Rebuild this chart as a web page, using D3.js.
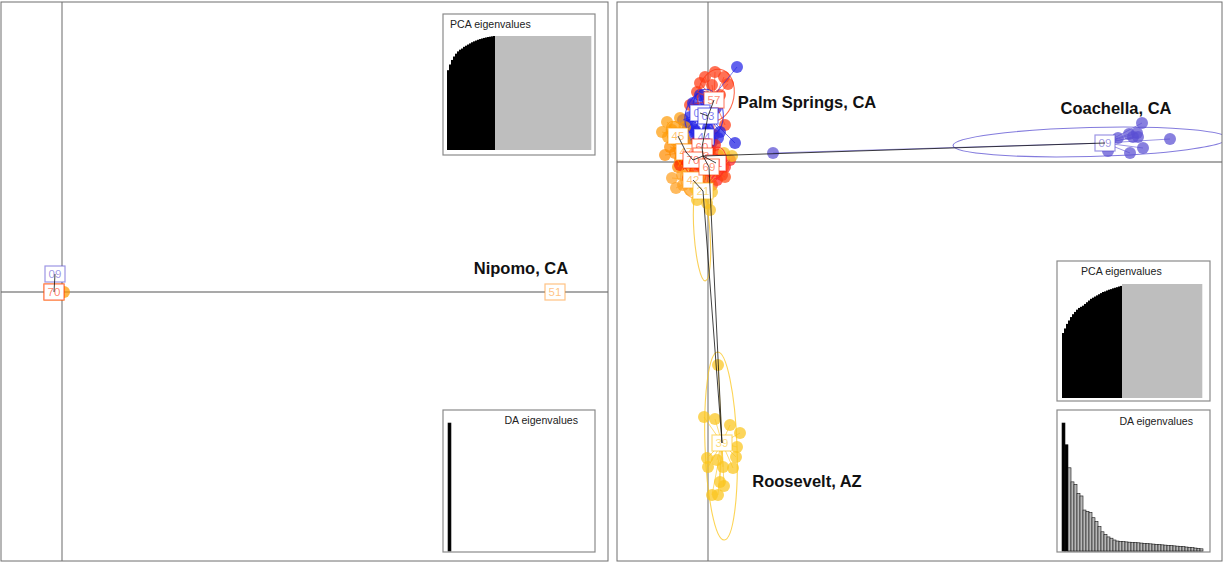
<!DOCTYPE html>
<html>
<head>
<meta charset="utf-8">
<script src="https://cdn.jsdelivr.net/npm/d3@7"></script>
<style>
  html, body { margin: 0; padding: 0; background: #fff; }
  svg { display: block; font-family: "Liberation Sans", Arial, Helvetica, sans-serif; }
</style>
</head>
<body>
<svg id="chart" width="1225" height="563"></svg>
<script>
// ---------------------------------------------------------------
// DAPC scores (discriminant functions LD1 / LD2)
// ---------------------------------------------------------------

// Left analysis: Nipomo vs. the rest
const leftGroups    = ["48", "09", "70", "51"];
const leftCentLD1   = [-0.8, -0.7, -0.8, 49.3];
const leftCentLD2   = [0.0,  1.8,  0.0,  0.0];
const leftInd = [
  ["09", -0.7, 1.8], ["09", -0.6, 1.7],
  ["70", -0.8, 0.0], ["70", -0.7, -0.1],
  ["48", 0.2, 0.0],
  ["51", 49.3, 0.0]
];
const leftTree = [["09", "70"]];
const leftAnnot = [["Nipomo, CA", 45.9, 2.4]];

// Right analysis: the desert populations
const rightGroups  = ["57", "06", "03", "44", "45", "47", "42", "60", "63", "71", "70", "69", "21", "39", "09"];
const rightCentLD1 = [0.6, -0.8, 0.0, -0.4, -3.0, -2.2, -1.5, -0.6, -0.5, 0.8, -1.5, 0.1, -0.5, 1.4, 39.7];
const rightCentLD2 = [6.2,  4.9, 4.6,  2.5,  2.6,  1.0, -1.8,  1.5,  0.6, -0.1, 0.2, -0.5, -2.9, -28.1, 1.9];
const rightInd = [
  ["57", -0.3, 8.5], ["57", 0.7, 9.0], ["57", 1.6, 8.5], ["57", -0.8, 7.9], ["57", 2.0, 7.8],
  ["57", -1.1, 7.0], ["57", 0.4, 7.7], ["57", 1.2, 6.7], ["57", -0.3, 4.4], ["57", 1.7, 3.7],
  ["57", 0.6, 2.7], ["57", -1.8, 5.7],
  ["06", -1.5, 5.9], ["06", -1.8, 4.5], ["06", -2.5, 4.2], ["06", -1.0, 5.4], ["06", 2.9, 9.5],
  ["06", -0.3, 6.2], ["06", -2.0, 3.4], ["06", -1.3, 3.0],
  ["03", -0.1, 3.0], ["03", 0.2, 2.4], ["03", 0.8, 5.4], ["03", -0.8, 6.7], ["03", -1.8, 3.7],
  ["03", 1.2, 3.0], ["03", 2.7, 1.9],
  ["44", -1.3, 3.2], ["44", 0.4, 2.0], ["44", -0.8, 1.4], ["44", 1.0, 2.4], ["44", -1.8, 2.2], ["44", 0.0, 3.4],
  ["45", -4.1, 4.0], ["45", -3.6, 3.2], ["45", -4.0, 2.5], ["45", -3.1, 2.2], ["45", -3.3, 3.5],
  ["45", -2.3, 3.5], ["45", -4.6, 3.0], ["45", -2.8, 4.4],
  ["47", -3.8, 1.5], ["47", -3.3, 0.9], ["47", -2.8, 0.2], ["47", -4.3, 0.7], ["47", -1.8, 1.7], ["47", -3.0, -0.5],
  ["42", -2.6, -1.3], ["42", -2.5, -2.3], ["42", -1.8, -2.8], ["42", -0.8, -1.6], ["42", -2.0, -1.0],
  ["42", -3.6, -1.6], ["42", -3.2, -2.6],
  ["60", -1.3, 1.2], ["60", 0.2, 1.2], ["60", 0.7, 1.7], ["60", -1.0, 2.2], ["60", -0.3, 0.4],
  ["63", -0.8, -0.3], ["63", 0.2, 0.0], ["63", 1.0, 0.7], ["63", -1.6, 0.4], ["63", -0.2, -0.8],
  ["71", 1.7, -0.5], ["71", 1.4, -1.3], ["71", 0.9, -1.8], ["71", 2.2, 0.2], ["71", 0.4, -1.0],
  ["70", -2.3, 0.2], ["70", -2.1, 0.9], ["70", -2.0, -1.6], ["70", -2.8, -0.3], ["70", -1.3, -0.8],
  ["69", 0.9, 0.2], ["69", 1.5, -0.5], ["69", 1.7, -1.5], ["69", -0.3, -1.8], ["69", 0.4, -2.3],
  ["21", 0.2, -4.8], ["21", -1.1, -3.8], ["21", -0.1, -4.1], ["21", -1.3, -2.6], ["21", 0.4, -3.0],
  ["21", 1.6, 0.9], ["21", 2.4, 0.6],
  ["39", -0.4, -25.5], ["39", 0.7, -25.7], ["39", 2.2, -26.3], ["39", 3.2, -27.1], ["39", 2.9, -28.5],
  ["39", 2.8, -29.5], ["39", 2.5, -30.6], ["39", -0.1, -29.6], ["39", 0.0, -30.5], ["39", 0.9, -29.8],
  ["39", 1.5, -30.5], ["39", 1.2, -32.0], ["39", 1.6, -32.4], ["39", 0.4, -33.3], ["39", 1.0, -33.3],
  ["39", 1.0, -20.3],
  ["09", 43.4, 3.9], ["09", 42.1, 2.8], ["09", 42.9, 2.9], ["09", 43.0, 2.5], ["09", 41.0, 2.4],
  ["09", 46.2, 2.3], ["09", 43.5, 1.4], ["09", 42.2, 0.9], ["09", 40.0, 1.1], ["09", 42.5, 2.5],
  ["09", 6.5, 0.9]
];
// inertia ellipses: group, centre LD1, centre LD2, semi-axis a, semi-axis b, angle (deg)
const rightEllipses = [
  ["09", 38.2, 2.0, 13.7, 1.45, 1.5],
  ["39", 1.3, -28.4, 9.4, 1.6, 92],
  ["21", -0.6, -7.1, 4.8, 0.8, 94],
  ["57", 0.8, 6.7, 2.6, 1.8, 80],
  ["06", -0.8, 4.9, 2.2, 1.4, 70],
  ["03", 0.0, 5.0, 2.3, 1.5, 100],
  ["44", -0.4, 2.5, 1.6, 1.1, 90],
  ["45", -3.0, 2.6, 1.6, 1.0, 120],
  ["47", -2.2, 1.0, 1.8, 1.1, 110],
  ["42", -1.5, -1.8, 1.8, 1.2, 100],
  ["60", -0.6, 1.5, 1.4, 1.0, 90],
  ["63", -0.5, 0.6, 1.5, 1.1, 90],
  ["71", 0.8, -0.1, 1.6, 1.0, 80],
  ["70", -1.5, 0.2, 1.5, 1.0, 100],
  ["69", 0.1, -0.5, 1.7, 1.1, 90]
];
// minimum spanning tree between group centroids
const rightTree = [
  ["09", "63"], ["39", "21"], ["39", "69"], ["21", "42"], ["60", "63"], ["44", "60"], ["03", "44"],
  ["06", "03"], ["57", "03"], ["45", "47"], ["47", "70"], ["70", "63"], ["71", "63"], ["69", "63"]
];
const rightAnnot = [
  ["Palm Springs, CA", 9.9, 6.0],
  ["Coachella, CA", 40.8, 5.4],
  ["Roosevelt, AZ", 9.9, -31.9]
];

// eigenvalue insets
const leftPcaCumVar = [
  0.70, 0.75, 0.79, 0.82, 0.845, 0.865, 0.88, 0.89, 0.905, 0.915, 0.925, 0.935,
  0.945, 0.953, 0.96, 0.967, 0.973, 0.978, 0.983, 0.987, 0.991, 0.994, 0.997, 1.0,
  1, 1, 1, 1, 1, 1, 1, 1, 1, 1, 1, 1, 1, 1, 1, 1, 1, 1, 1, 1, 1, 1, 1, 1,
  1, 1, 1, 1, 1, 1, 1, 1, 1, 1, 1, 1, 1, 1, 1, 1, 1, 1, 1, 1, 1, 1, 1, 1
];
const leftPcaRetained = 24;
const leftDaEig = [1.0];
const leftDaRetained = 1;

const rightPcaCumVar = [
  0.57, 0.61, 0.65, 0.68, 0.71, 0.735, 0.755, 0.775, 0.79, 0.80, 0.81, 0.825, 0.84, 0.855, 0.87,
  0.88, 0.89, 0.90, 0.91, 0.92, 0.93, 0.935, 0.943, 0.95, 0.955, 0.962, 0.967, 0.972, 0.978, 0.983,
  1, 1, 1, 1, 1, 1, 1, 1, 1, 1, 1, 1, 1, 1, 1, 1, 1, 1, 1, 1,
  1, 1, 1, 1, 1, 1, 1, 1, 1, 1, 1, 1, 1, 1, 1, 1, 1, 1, 1, 1
];
const rightPcaRetained = 30;
const rightDaEig = [
  1.0, 0.83, 0.65, 0.54, 0.52, 0.45, 0.43, 0.32, 0.31, 0.30, 0.26, 0.23, 0.19, 0.15, 0.13, 0.11,
  0.10, 0.086, 0.078, 0.075, 0.073, 0.071, 0.069, 0.067, 0.066, 0.064, 0.062, 0.060, 0.058, 0.056,
  0.054, 0.052, 0.050, 0.048, 0.046, 0.044, 0.042, 0.040, 0.038, 0.036, 0.034, 0.031, 0.029, 0.026,
  0.023, 0.020, 0.017
];
const rightDaRetained = 2;

// ---------------------------------------------------------------
// styling
// ---------------------------------------------------------------
const palette = {
  "09": "#5a4fd2", "06": "#2424e8", "03": "#1e1ee2", "44": "#2a2ae6",
  "57": "#ff3a14", "60": "#ff2d10", "63": "#ff3800", "71": "#ff2424", "70": "#ff2a00", "69": "#ff4a10",
  "45": "#ff9c0a", "47": "#ff8c00", "42": "#ffa020", "48": "#ff9a00",
  "21": "#f8c020", "39": "#fbc51c", "51": "#ff9a30"
};

const svg = d3.select("#chart");

function drawPanel(cfg) {
  const g = svg.append("g");
  const x = d3.scaleLinear().domain(cfg.xDomain).range([cfg.x0, cfg.x1]);
  const y = d3.scaleLinear().domain(cfg.yDomain).range([cfg.y1, cfg.y0]);
  const k = (cfg.x1 - cfg.x0) / (cfg.xDomain[1] - cfg.xDomain[0]);

  const cent = new Map(cfg.groups.map((gname, i) => [gname, [cfg.cLD1[i], cfg.cLD2[i]]]));

  const clipId = "clip-" + cfg.id;
  svg.append("defs").append("clipPath").attr("id", clipId)
    .append("rect").attr("x", cfg.x0).attr("y", cfg.y0)
    .attr("width", cfg.x1 - cfg.x0).attr("height", cfg.y1 - cfg.y0);
  const plot = g.append("g").attr("clip-path", `url(#${clipId})`);

  // axes through the origin
  plot.append("line").attr("x1", cfg.x0).attr("x2", cfg.x1).attr("y1", y(0)).attr("y2", y(0))
    .attr("stroke", "#8c8c8c").attr("stroke-width", 1.3);
  plot.append("line").attr("y1", cfg.y0).attr("y2", cfg.y1).attr("x1", x(0)).attr("x2", x(0))
    .attr("stroke", "#8c8c8c").attr("stroke-width", 1.3);

  // individuals
  plot.append("g").selectAll("circle").data(cfg.ind).join("circle")
    .attr("cx", d => x(d[1])).attr("cy", d => y(d[2])).attr("r", 6)
    .attr("fill", d => palette[d[0]]).attr("fill-opacity", 0.72);

  // ellipses
  plot.append("g").selectAll("ellipse").data(cfg.ellipses).join("ellipse")
    .attr("transform", d => `translate(${x(d[1])},${y(d[2])}) rotate(${-d[5]})`)
    .attr("rx", d => d[3] * k).attr("ry", d => d[4] * k)
    .attr("fill", "none").attr("stroke", d => palette[d[0]])
    .attr("stroke-opacity", 0.75).attr("stroke-width", 1.1);

  // stars: centroid to each individual
  plot.append("g").selectAll("line").data(cfg.ind).join("line")
    .attr("x1", d => x(cent.get(d[0])[0])).attr("y1", d => y(cent.get(d[0])[1]))
    .attr("x2", d => x(d[1])).attr("y2", d => y(d[2]))
    .attr("stroke", d => palette[d[0]]).attr("stroke-opacity", 0.6).attr("stroke-width", 1);

  // group labels
  const lab = plot.append("g").selectAll("g").data(cfg.groups).join("g")
    .attr("transform", d => `translate(${x(cent.get(d)[0])},${y(cent.get(d)[1])})`);
  lab.append("rect").attr("x", -10).attr("y", -8).attr("width", 20).attr("height", 16)
    .attr("fill", "#fff").attr("stroke", d => palette[d]).attr("stroke-opacity", 0.6).attr("stroke-width", 1.2);
  lab.append("text").attr("text-anchor", "middle").attr("dy", "0.36em")
    .attr("font-size", 11.5).attr("fill", d => palette[d]).attr("fill-opacity", 0.6)
    .text(d => d);

  // spanning tree between centroids
  plot.append("g").selectAll("line").data(cfg.tree).join("line")
    .attr("x1", d => x(cent.get(d[0])[0])).attr("y1", d => y(cent.get(d[0])[1]))
    .attr("x2", d => x(cent.get(d[1])[0])).attr("y2", d => y(cent.get(d[1])[1]))
    .attr("stroke", "#111").attr("stroke-opacity", 0.8).attr("stroke-width", 1);

  // population names
  plot.append("g").selectAll("text").data(cfg.annot).join("text")
    .attr("x", d => x(d[1])).attr("y", d => y(d[2])).attr("dy", "0.35em")
    .attr("text-anchor", "middle").attr("font-size", 16.5).attr("font-weight", "bold")
    .attr("fill", "#111").text(d => d[0]);

  // panel frame
  g.append("rect").attr("x", cfg.x0).attr("y", cfg.y0)
    .attr("width", cfg.x1 - cfg.x0).attr("height", cfg.y1 - cfg.y0)
    .attr("fill", "none").attr("stroke", "#6e6e6e").attr("stroke-width", 1);

  drawPcaInset(g, cfg.pca);
  drawDaInset(g, cfg.da);
}

function insetBox(g, b) {
  g.append("rect").attr("x", b.x0).attr("y", b.y0).attr("width", b.x1 - b.x0).attr("height", b.y1 - b.y0)
    .attr("fill", "#fff").attr("stroke", "#8a8a8a").attr("stroke-width", 1.2);
}

function drawPcaInset(g, p) {
  insetBox(g, p.box);
  const n = p.values.length;
  const bx = d3.scaleBand().domain(d3.range(n)).range([p.left, p.left + n * p.step]).padding(0);
  const by = d3.scaleLinear().domain([0, 1]).range([p.base, p.top]);
  g.append("g").selectAll("rect").data(p.values).join("rect")
    .attr("x", (d, i) => bx(i)).attr("width", bx.bandwidth() + 0.3)
    .attr("y", d => by(d)).attr("height", d => p.base - by(d))
    .attr("fill", (d, i) => i < p.retained ? "#000" : "#bebebe");
  g.append("text").attr("x", p.titleX).attr("y", p.titleY).attr("text-anchor", p.anchor)
    .attr("font-size", 10.6).attr("fill", "#222").text("PCA eigenvalues");
}

function drawDaInset(g, p) {
  insetBox(g, p.box);
  const n = p.values.length;
  const bx = d3.scaleBand().domain(d3.range(n)).range([p.left, p.left + n * p.step]).padding(0);
  const by = d3.scaleLinear().domain([0, d3.max(p.values)]).range([p.base, p.top]);
  g.append("g").selectAll("rect").data(p.values).join("rect")
    .attr("x", (d, i) => bx(i)).attr("width", bx.bandwidth())
    .attr("y", d => by(d)).attr("height", d => p.base - by(d))
    .attr("fill", (d, i) => i < p.retained ? "#000" : "#b8b8b8")
    .attr("stroke", "#111").attr("stroke-width", 0.6);
  g.append("text").attr("x", p.titleX).attr("y", p.titleY).attr("text-anchor", "end")
    .attr("font-size", 10.6).attr("fill", "#222").text("DA eigenvalues");
}

drawPanel({
  id: "left",
  x0: 1, x1: 608, y0: 2, y1: 561,
  xDomain: [-6.1, 54.6], yDomain: [-26.9, 29.0],
  groups: leftGroups, cLD1: leftCentLD1, cLD2: leftCentLD2,
  ind: leftInd, ellipses: [], tree: leftTree, annot: leftAnnot,
  pca: { box: { x0: 443, y0: 14, x1: 595, y1: 155 }, values: leftPcaCumVar, retained: leftPcaRetained,
         left: 447, step: 2, base: 150, top: 36, titleX: 450, titleY: 28, anchor: "start" },
  da:  { box: { x0: 443, y0: 410, x1: 595, y1: 552 }, values: leftDaEig, retained: leftDaRetained,
         left: 448, step: 3, base: 551, top: 423, titleX: 578, titleY: 424 }
});

drawPanel({
  id: "right",
  x0: 617, x1: 1222, y0: 2, y1: 561,
  xDomain: [-9.1, 51.4], yDomain: [-39.9, 16.0],
  groups: rightGroups, cLD1: rightCentLD1, cLD2: rightCentLD2,
  ind: rightInd, ellipses: rightEllipses, tree: rightTree, annot: rightAnnot,
  pca: { box: { x0: 1057, y0: 261, x1: 1210, y1: 401 }, values: rightPcaCumVar, retained: rightPcaRetained,
         left: 1062, step: 2, base: 398, top: 284, titleX: 1081, titleY: 275, anchor: "start" },
  da:  { box: { x0: 1057, y0: 410, x1: 1210, y1: 552 }, values: rightDaEig, retained: rightDaRetained,
         left: 1062, step: 3, base: 551, top: 423, titleX: 1193, titleY: 425 }
});
</script>
</body>
</html>
